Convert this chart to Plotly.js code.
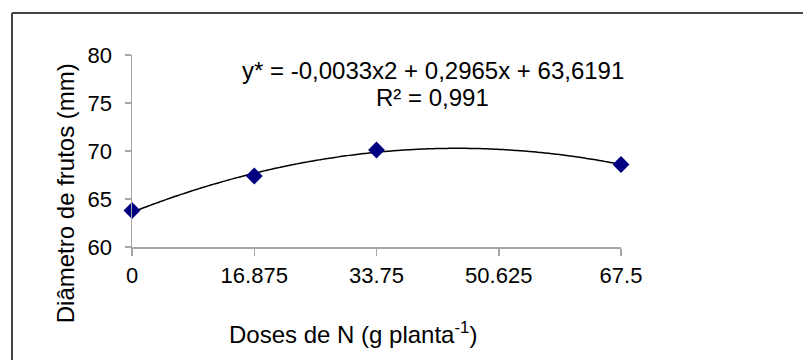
<!DOCTYPE html>
<html>
<head>
<meta charset="utf-8">
<script src="https://cdn.plot.ly/plotly-3.0.1.min.js"></script>
<style>html,body{margin:0;padding:0;background:#fff}#chart{width:803px;height:360px}</style>
</head>
<body>
<div id="chart"></div>
<script>
// Data
const doses = [0, 16.875, 33.75, 67.5];
const diametro = [63.8, 67.4, 70.1, 68.6];
const tickVals = [0, 16.875, 33.75, 50.625, 67.5];
const tickText = ['0', '16.875', '33.75', '50.625', '67.5'];
const yTickVals = [60, 65, 70, 75, 80];
// Quadratic trendline coefficients printed on the chart (a x^2 + b x + c)
const trendCoef = [-0.0033, 0.2965, 63.6191];
const equationText = 'y* = -0,0033x2 + 0,2965x + 63,6191';
const r2Text = 'R² = 0,991';
const xTitle = 'Doses de N (g planta<sup>-1</sup>)';
const yTitle = 'Diâmetro de frutos (mm)';

const trendX = [];
const trendY = [];
for (let i = 0; i <= 135; i++) {
  const x = i * 0.5;
  trendX.push(x);
  trendY.push(trendCoef[0] * x * x + trendCoef[1] * x + trendCoef[2]);
}

const fam = 'Liberation Sans, Arial, sans-serif';
const tickFont = {family: fam, size: 22, color: '#000'};
const bigFont = {family: fam, size: 24, color: '#000'};
const axisGray = '#a6a6a6';

const traces = [
  {x: trendX, y: trendY, mode: 'lines', type: 'scatter',
   line: {color: '#000', width: 1.5, shape: 'spline'}, hoverinfo: 'skip', cliponaxis: false},
  {x: doses, y: diametro, mode: 'markers', type: 'scatter',
   marker: {symbol: 'diamond', size: 13, color: '#000080'}, cliponaxis: false}
];

const layout = {
  width: 803, height: 360,
  margin: {l: 132, r: 182, t: 55, b: 113},
  paper_bgcolor: '#fff', plot_bgcolor: '#fff',
  showlegend: false,
  font: tickFont,
  xaxis: {
    range: [0, 67.5], tickvals: tickVals, ticktext: tickText,
    showgrid: false, zeroline: false, showline: true, linecolor: axisGray, linewidth: 1.5,
    ticks: 'outside', ticklen: 7, tickcolor: axisGray, tickwidth: 1.5,
    tickfont: tickFont, automargin: false, ticklabelstandoff: 1
  },
  yaxis: {
    range: [60, 80], tickvals: yTickVals,
    showgrid: false, zeroline: false, showline: true, linecolor: axisGray, linewidth: 1.5,
    ticks: 'outside', ticklen: 6, tickcolor: axisGray, tickwidth: 1.5,
    tickfont: tickFont, automargin: false, ticklabelstandoff: 8
  },
  annotations: [
    {xref: 'paper', yref: 'paper', x: 0.6155, y: 0.921, text: equationText,
     showarrow: false, font: bigFont, xanchor: 'center', yanchor: 'middle'},
    {xref: 'paper', yref: 'paper', x: 0.6155, y: 0.78, text: r2Text,
     showarrow: false, font: bigFont, xanchor: 'center', yanchor: 'middle'},
    {xref: 'paper', yref: 'paper', x: 0.452, y: -0.45, text: xTitle,
     showarrow: false, font: bigFont, xanchor: 'center', yanchor: 'middle'},
    {xref: 'paper', yref: 'paper', x: -0.137, y: 0.28, text: yTitle, textangle: -90,
     showarrow: false, font: bigFont, xanchor: 'center', yanchor: 'middle'}
  ],
  shapes: [
    {type: 'line', xref: 'paper', yref: 'paper', x0: -0.2454, x1: -0.2454, y0: 1.219, y1: -0.7,
     line: {color: '#444', width: 2}},
    {type: 'line', xref: 'paper', yref: 'paper', x0: -0.2454, x1: 1.4, y0: 1.219, y1: 1.219,
     line: {color: '#444', width: 2}}
  ]
};

Plotly.newPlot('chart', traces, layout, {displayModeBar: false, staticPlot: true});
</script>
</body>
</html>
